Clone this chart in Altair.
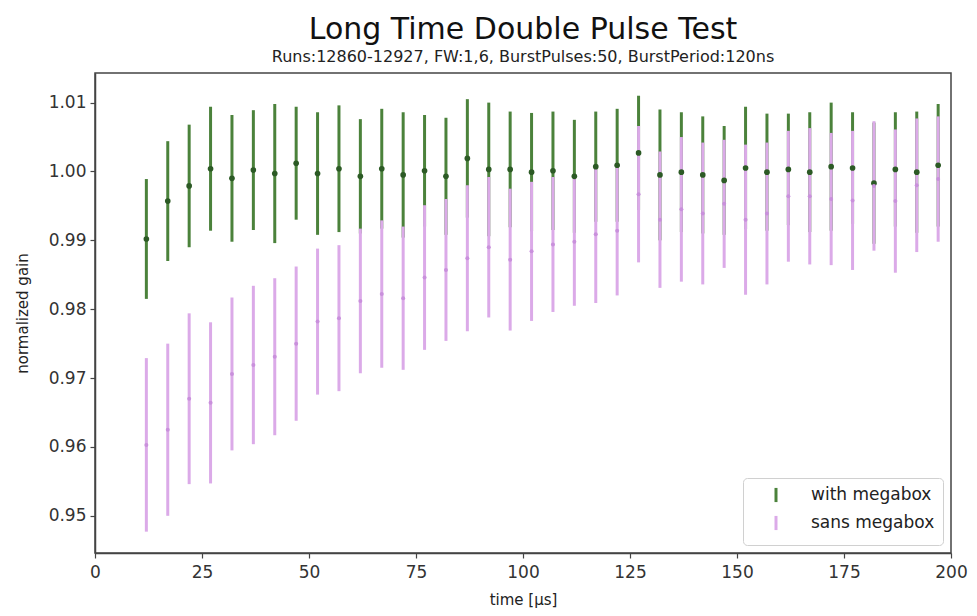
import altair as alt
import pandas as pd

time_us = [12, 17, 22, 27, 32, 37, 42, 47, 52, 57, 62, 67, 72, 77, 82, 87, 92, 97, 102,
           107, 112, 117, 122, 127, 132, 137, 142, 147, 152, 157, 162, 167, 172, 177,
           182, 187, 192, 197]

with_mean = [0.9902, 0.9957, 0.9979, 1.0004, 0.9990, 1.0002, 0.9997, 1.0012, 0.9997,
             1.0004, 0.9993, 1.0004, 0.9995, 1.0001, 0.9993, 1.0019, 1.0003, 1.0003,
             0.9999, 1.0001, 0.9993, 1.0007, 1.0009, 1.0027, 0.9995, 0.9999, 0.9995,
             0.9987, 1.0005, 0.9999, 1.0003, 0.9999, 1.0007, 1.0005, 0.9983, 1.0003,
             0.9999, 1.0009]
with_err = [0.0087, 0.0087, 0.0089, 0.0090, 0.0092, 0.0087, 0.0101, 0.0082, 0.0089,
            0.0092, 0.0083, 0.0087, 0.0091, 0.0081, 0.0085, 0.0086, 0.0097, 0.0084,
            0.0086, 0.0086, 0.0082, 0.0080, 0.0082, 0.0083, 0.0095, 0.0087, 0.0085,
            0.0079, 0.0089, 0.0085, 0.0081, 0.0087, 0.0093, 0.0081, 0.0088, 0.0083,
            0.0088, 0.0089]

sans_mean = [0.9603, 0.9625, 0.9670, 0.9664, 0.9706, 0.9719, 0.9731, 0.9750, 0.9782,
             0.9787, 0.9812, 0.9822, 0.9816, 0.9846, 0.9857, 0.9874, 0.9890, 0.9872,
             0.9884, 0.9894, 0.9898, 0.9909, 0.9914, 0.9967, 0.9930, 0.9945, 0.9939,
             0.9953, 0.9930, 0.9939, 0.9964, 0.9964, 0.9960, 0.9958, 0.9979, 0.9957,
             0.9980, 0.9989]
sans_err = [0.0126, 0.0125, 0.0124, 0.0117, 0.0111, 0.0115, 0.0114, 0.0112, 0.0106,
            0.0106, 0.0105, 0.0107, 0.0104, 0.0105, 0.0103, 0.0106, 0.0102, 0.0103,
            0.0101, 0.0098, 0.0093, 0.0100, 0.0094, 0.0099, 0.0099, 0.0105, 0.0103,
            0.0093, 0.0109, 0.0103, 0.0095, 0.0099, 0.0096, 0.0101, 0.0094, 0.0104,
            0.0097, 0.0091]

series_names = ["with megabox", "sans megabox"]
line_colors = ["#4b823b", "#dbaae8"]
dot_colors = ["#2c5a25", "#c990dc"]

rows = []
for name, means, errs in [(series_names[0], with_mean, with_err),
                          (series_names[1], sans_mean, sans_err)]:
    for t, m, e in zip(time_us, means, errs):
        rows.append({"t": t, "gain": m, "lo": m - e, "hi": m + e, "series": name})
df = pd.DataFrame(rows)

FONT = "DejaVu Sans"

x_scale = alt.Scale(domain=[0, 200], nice=False, zero=False)
y_scale = alt.Scale(domain=[0.9446, 1.0143], nice=False, zero=False)

x_axis = alt.Axis(title="time [μs]", values=[0, 25, 50, 75, 100, 125, 150, 175, 200],
                  grid=False, labelFlush=False)
y_axis = alt.Axis(title="normalized gain", values=[0.95, 0.96, 0.97, 0.98, 0.99, 1.00, 1.01],
                  format=".2f", grid=False, labelFlush=False)

base = alt.Chart(df)

rules = base.mark_rule(strokeWidth=3).encode(
    x=alt.X("t:Q", scale=x_scale, axis=x_axis),
    y=alt.Y("lo:Q", scale=y_scale, axis=y_axis),
    y2="hi:Q",
    color=alt.Color(
        "series:N",
        scale=alt.Scale(domain=series_names, range=line_colors),
        sort=series_names,
        legend=alt.Legend(
            title=None, orient="bottom-right", offset=8,
            symbolType="M0,-1L0,1", symbolSize=200, symbolStrokeWidth=3,
            labelFontSize=17, labelFont=FONT, labelColor="#222",
            labelOffset=26, symbolOffset=16, rowPadding=0,
            padding=8, strokeColor="#d0d0d0", fillColor="white",
            cornerRadius=4,
        ),
    ),
)

green_pts = base.transform_filter(alt.datum.series == series_names[0]).mark_circle(
    size=32, opacity=1, color=dot_colors[0]
).encode(x=alt.X("t:Q", scale=x_scale), y=alt.Y("gain:Q", scale=y_scale))

pink_pts = base.transform_filter(alt.datum.series == series_names[1]).mark_circle(
    size=16, opacity=1, color=dot_colors[1]
).encode(x=alt.X("t:Q", scale=x_scale), y=alt.Y("gain:Q", scale=y_scale))

chart = alt.layer(rules, green_pts, pink_pts).properties(
    width=856,
    height=480,
    autosize=alt.AutoSizeParams(type="none"),
    padding={"left": 87, "top": 65, "right": 18, "bottom": 55},
    title=alt.TitleParams(
        text="Long Time Double Pulse Test",
        subtitle="Runs:12860-12927, FW:1,6, BurstPulses:50, BurstPeriod:120ns",
        font=FONT, fontSize=30, fontWeight="normal", color="#111",
        subtitleFont=FONT, subtitleFontSize=16, subtitleColor="#222",
        subtitlePadding=4, anchor="middle", offset=8,
    ),
).configure_view(
    stroke="#444", strokeWidth=1.5
).configure_axis(
    domainColor="#444", domainWidth=1.5, tickColor="#444", tickSize=5, tickWidth=1.2,
    labelFont=FONT, labelFontSize=17, labelColor="#333",
    titleFont=FONT, titleFontSize=15, titleFontWeight="normal", titleColor="#222",
).configure_axisY(titlePadding=18, labelPadding=4).configure_axisX(titlePadding=12, labelPadding=6)

chart.save("out.html", embed_options={"renderer": "svg", "actions": False})
